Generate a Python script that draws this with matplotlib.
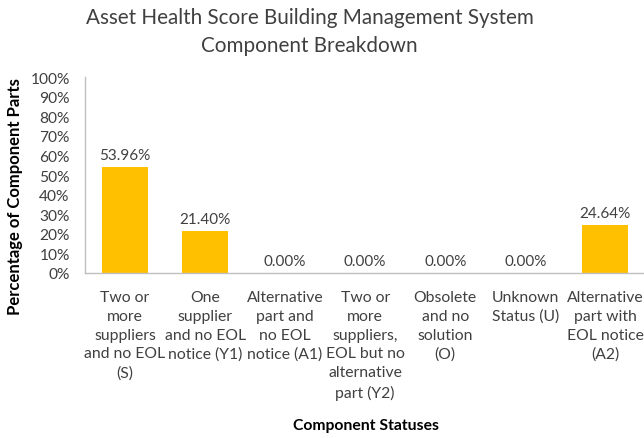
import numpy as np
import matplotlib.pyplot as plt

plt.rcParams['font.family'] = ['Lato', 'DejaVu Sans']

# data
categories = ["Two or\nmore\nsuppliers\nand no EOL\n(S)",
              "One\nsupplier\nand no EOL\nnotice (Y1)",
              "Alternative\npart and\nno EOL\nnotice (A1)",
              "Two or\nmore\nsuppliers,\nEOL but no\nalternative\npart (Y2)",
              "Obsolete\nand no\nsolution\n(O)",
              "Unknown\nStatus (U)",
              "Alternative\npart with\nEOL notice\n(A2)"]
values = [53.96, 21.40, 0.00, 0.00, 0.00, 0.00, 24.64]
yticks = [0, 10, 20, 30, 40, 50, 60, 70, 80, 90, 100]

txt = "#404040"

fig = plt.figure(figsize=(6.44, 4.39), dpi=100)
ax = fig.add_axes([0.132, 0.376, 0.870, 0.446])

x = np.arange(len(values))
ax.bar(x, values, width=0.58, color="#FFC000")
for xi, v in zip(x, values):
    ax.text(xi, v + 2.5, "%.2f%%" % v, ha="center", va="bottom",
            fontsize=11, color=txt)

ax.set_xlim(-0.5, len(values) - 0.5)
ax.set_ylim(0, 100)
ax.set_yticks(yticks)
ax.set_yticklabels(["%d%%" % t for t in yticks], fontsize=11.2, color=txt)
ax.set_xticks(x)
ax.set_xticklabels(categories, fontsize=11.3, color=txt, linespacing=1.45)
ax.tick_params(axis="both", length=0)
ax.tick_params(axis="x", pad=12)
ax.tick_params(axis="y", pad=11)

for s in ["top", "right"]:
    ax.spines[s].set_visible(False)
for s in ["left", "bottom"]:
    ax.spines[s].set_color("#BFBFBF")
    ax.spines[s].set_linewidth(1)

fig.text(15 / 644, 1 - 197 / 439, "Percentage of Component Parts", rotation=90,
         ha="center", va="center", fontsize=12, fontweight="bold", color="black")
fig.text(366 / 644, 1 - 426 / 439, "Component Statuses", ha="center", va="center",
         fontsize=11.3, fontweight="bold", color="black")

fig.text(0.481, 1 - 18 / 439, "Asset Health Score Building Management System",
         ha="center", va="center", fontsize=14.9, color=txt)
fig.text(0.481, 1 - 46 / 439, "Component Breakdown",
         ha="center", va="center", fontsize=14.9, color=txt)

fig.savefig("out.png", dpi=100)
